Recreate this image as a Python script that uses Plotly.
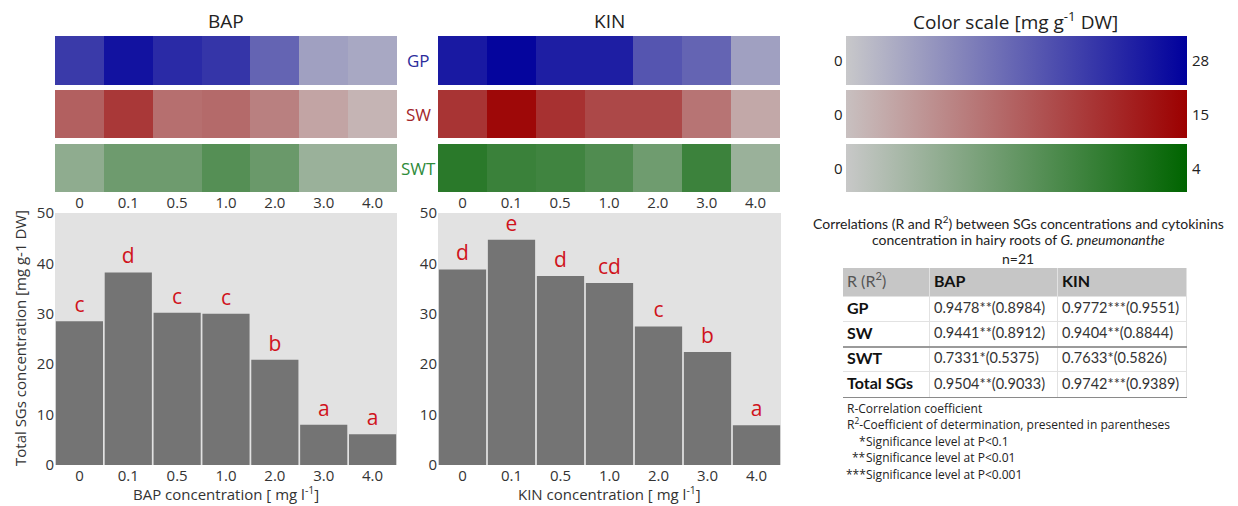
import plotly.graph_objects as go

W, H = 1238, 506
def px(x): return x / W
def py(y): return 1 - y / H

# ---------------- data ----------------
conc = ["0", "0.1", "0.5", "1.0", "2.0", "3.0", "4.0"]
rows = ["GP", "SW", "SWT"]
scale_max = [28, 15, 4]

bap_gp = [19.9, 25.5, 22.1, 20.6, 14.0, 5.6, 4.5]
bap_sw = [7.5, 10.6, 6.3, 6.7, 5.0, 2.2, 0.9]
bap_swt = [1.14, 1.8, 1.8, 2.3, 1.88, 0.92, 0.92]

kin_gp = [24.5, 27.3, 23.8, 23.8, 16.1, 14.0, 5.6]
kin_sw = [10.9, 14.4, 11.2, 9.4, 9.4, 5.9, 1.9]
kin_swt = [3.16, 2.84, 2.72, 2.4, 1.78, 2.8, 0.92]

bap_total = [28.5, 38.2, 30.2, 30.0, 20.9, 8.0, 6.1]
kin_total = [38.8, 44.7, 37.5, 36.1, 27.5, 22.4, 7.9]
bap_letters = ["c", "d", "c", "c", "b", "a", "a"]
kin_letters = ["d", "e", "d", "cd", "c", "b", "a"]

table_header = ["R (R<sup>2</sup>)", "BAP", "KIN"]
table_rows = ["GP", "SW", "SWT", "Total SGs"]
bap_corr = ["0.9478**(0.8984)", "0.9441**(0.8912)", "0.7331*(0.5375)", "0.9504**(0.9033)"]
kin_corr = ["0.9772***(0.9551)", "0.9404**(0.8844)", "0.7633*(0.5826)", "0.9742***(0.9389)"]
col_edges = [0, 87, 215, 344]          # table column boundaries (px units)
row_edges = [0, 29, 54, 79, 104, 130]  # table row boundaries (px units)

# ---------------- style ----------------
FONT = "Open Sans"
TFONT = "Lato"
scales = [
    [[0, "#c8c8ca"], [1, "#00009c"]],
    [[0, "#c8c0c0"], [1, "#9c0000"]],
    [[0, "#c8c8c8"], [1, "#006400"]],
]
row_colors = ["#2b2b9c", "#a3262a", "#2e8b3a"]
row_pix = [(36, 85), (90, 138), (144, 192)]

fig = go.Figure()

heat = {"x": [bap_gp, bap_sw, bap_swt], "x2": [kin_gp, kin_sw, kin_swt]}
yaxes = ["y", "y2", "y3"]
cax = ["coloraxis", "coloraxis2", "coloraxis3"]
for xa, vals in heat.items():
    for i, v in enumerate(vals):
        fig.add_trace(go.Heatmap(x=conc, y=[rows[i]], z=[v], coloraxis=cax[i],
                                 xaxis=xa, yaxis=yaxes[i], hoverinfo="skip"))

for xa, ya, tot, let in [("x3", "y4", bap_total, bap_letters), ("x4", "y5", kin_total, kin_letters)]:
    fig.add_trace(go.Bar(x=conc, y=tot, text=let, textposition="outside",
                         textfont=dict(color="#d0131c", size=21, family=FONT),
                         marker=dict(color="#747474", line=dict(width=0)),
                         cliponaxis=False, xaxis=xa, yaxis=ya, hoverinfo="skip"))

# ---- correlation table (cells as heatmap bricks, text as scatter text) ----
nrow = len(table_rows) + 1
fill_z = [[1, 1, 1]] + [[0, 0, 0] for _ in table_rows]
fig.add_trace(go.Heatmap(x=col_edges, y=row_edges, z=fill_z,
                         colorscale=[[0, "white"], [1, "#c6c6c6"]], showscale=False,
                         xgap=1, ygap=1, xaxis="x5", yaxis="y6", hoverinfo="skip"))
row_mid = [(row_edges[k] + row_edges[k + 1]) / 2 for k in range(nrow)]
col_left = [c + 4 for c in col_edges[:-1]]
fig.add_trace(go.Scatter(x=col_left, y=[row_mid[0]] * 3, mode="text",
                         text=[table_header[0], "<b>%s</b>" % table_header[1], "<b>%s</b>" % table_header[2]],
                         textposition="middle right",
                         textfont=dict(family=TFONT, size=16, color=["#555555", "#111111", "#111111"]),
                         xaxis="x5", yaxis="y6", hoverinfo="skip", cliponaxis=False))
fig.add_trace(go.Scatter(x=[col_left[0]] * 4, y=row_mid[1:], mode="text",
                         text=["<b>%s</b>" % r for r in table_rows], textposition="middle right",
                         textfont=dict(family=TFONT, size=16, color="#111111"),
                         xaxis="x5", yaxis="y6", hoverinfo="skip", cliponaxis=False))
for ci, col in [(1, bap_corr), (2, kin_corr)]:
    fig.add_trace(go.Scatter(x=[col_left[ci]] * 4, y=row_mid[1:], mode="text",
                             text=col, textposition="middle right",
                             textfont=dict(family=TFONT, size=14.5, color="#333333"),
                             xaxis="x5", yaxis="y6", hoverinfo="skip", cliponaxis=False))

layout = dict(
    width=W, height=H, margin=dict(l=0, r=0, t=0, b=0, autoexpand=False),
    paper_bgcolor="white", plot_bgcolor="#e2e2e2", showlegend=False,
    font=dict(family=FONT, color="#333333"),
    bargap=0.035,
)
hx = {"x": (55, 397), "x2": (438, 780)}
for name, (a, b) in hx.items():
    key = "xaxis" if name == "x" else "xaxis2"
    layout[key] = dict(domain=[px(a), px(b)], anchor="y3", type="category",
                       showgrid=False, zeroline=False, ticks="", showline=False,
                       tickfont=dict(size=15, color="#333333"), fixedrange=True)
for i, (t, b) in enumerate(row_pix):
    key = "yaxis" if i == 0 else "yaxis%d" % (i + 1)
    layout[key] = dict(domain=[py(b), py(t)], anchor="x", showticklabels=False,
                       showgrid=False, zeroline=False, ticks="", fixedrange=True)
    layout[cax[i]] = dict(cmin=0, cmax=scale_max[i], colorscale=scales[i],
                          colorbar=dict(orientation="h", x=px(846), xanchor="left",
                                        y=py(t), yanchor="top", len=341, lenmode="pixels",
                                        thickness=b - t, thicknessmode="pixels",
                                        outlinewidth=0, showticklabels=False, ticks="",
                                        xpad=0, ypad=0))
for xk, yk, (a, b), anc_x, anc_y in [("xaxis3", "yaxis4", (55, 397), "x3", "y4"),
                                     ("xaxis4", "yaxis5", (438, 781), "x4", "y5")]:
    layout[xk] = dict(domain=[px(a), px(b)], anchor=anc_y, type="category",
                      showgrid=False, zeroline=False, ticks="", showline=False,
                      tickfont=dict(size=15, color="#333333"), fixedrange=True)
    layout[yk] = dict(domain=[py(465), py(213)], anchor=anc_x, range=[0, 50], dtick=10,
                      showgrid=False, zeroline=False, ticks="", showline=False,
                      tickfont=dict(size=15, color="#333333"), fixedrange=True)
layout["xaxis5"] = dict(domain=[px(843), px(843 + col_edges[-1])], anchor="y6",
                        range=[col_edges[0], col_edges[-1]], visible=False, fixedrange=True)
layout["yaxis6"] = dict(domain=[py(268 + row_edges[-1]), py(268)], anchor="x5",
                        range=[row_edges[-1], row_edges[0]], visible=False, fixedrange=True)

layout["shapes"] = [
    dict(type="line", xref="x5", yref="y6", x0=col_edges[0], x1=col_edges[-1],
         y0=row_edges[3], y1=row_edges[3], line=dict(color="#9a9a9a", width=2)),
    dict(type="line", xref="x5", yref="y6", x0=col_edges[0], x1=col_edges[-1],
         y0=row_edges[-1], y1=row_edges[-1], line=dict(color="#8a8a8a", width=2)),
]

ann = []
def A(text, x, y, size, color="#222222", xanchor="center", family=FONT, **kw):
    ann.append(dict(text=text, x=px(x), y=py(y), xref="paper", yref="paper",
                    showarrow=False, xanchor=xanchor, yanchor="middle",
                    font=dict(size=size, color=color, family=family), **kw))

A("BAP", 226, 21, 19)
A("KIN", 609, 21, 19)
A("Color scale [mg g<sup>-1</sup> DW]", 1015, 21, 19)
for i, (t, b) in enumerate(row_pix):
    A(rows[i], 418, (t + b) / 2, 17, color=row_colors[i])
    A("0", 838, (t + b) / 2, 15, color="#222222")
    A(str(scale_max[i]), 1190, (t + b) / 2, 15, color="#222222", xanchor="left")
A("Total SGs concentration [mg g-1 DW]", 20, 338, 15, color="#333333", textangle=-90)
A("BAP concentration [ mg l<sup>-1</sup>]", 226, 493, 15, color="#333333")
A("KIN concentration [ mg l<sup>-1</sup>]", 609, 493, 15, color="#333333")

A("Correlations (R and R<sup>2</sup>) between SGs concentrations and cytokinins", 1018, 222, 14, family=TFONT)
A("concentration in hairy roots of <i>G. pneumonanthe</i>", 1018, 240, 14, family=TFONT)
A("n=21", 1018, 258, 14, family=TFONT)

A("R-Correlation coefficient", 845, 408, 12, xanchor="left")
A("R<sup>2</sup>-Coefficient of determination, presented in parentheses", 845, 424, 12, xanchor="left")
for j, (stars, p) in enumerate([("*", "0.1"), ("**", "0.01"), ("***", "0.001")]):
    yy = 441 + j * 16.5
    A(stars, 867, yy, 12, xanchor="right", borderpad=0)
    A("Significance level at P&lt;%s" % p, 865, yy, 12, xanchor="left", borderpad=0)

layout["annotations"] = ann
fig.update_layout(**layout)
fig.write_html("out.html", config={"displayModeBar": False},
               post_script="document.body.style.margin='0';document.body.style.overflow='hidden';")
